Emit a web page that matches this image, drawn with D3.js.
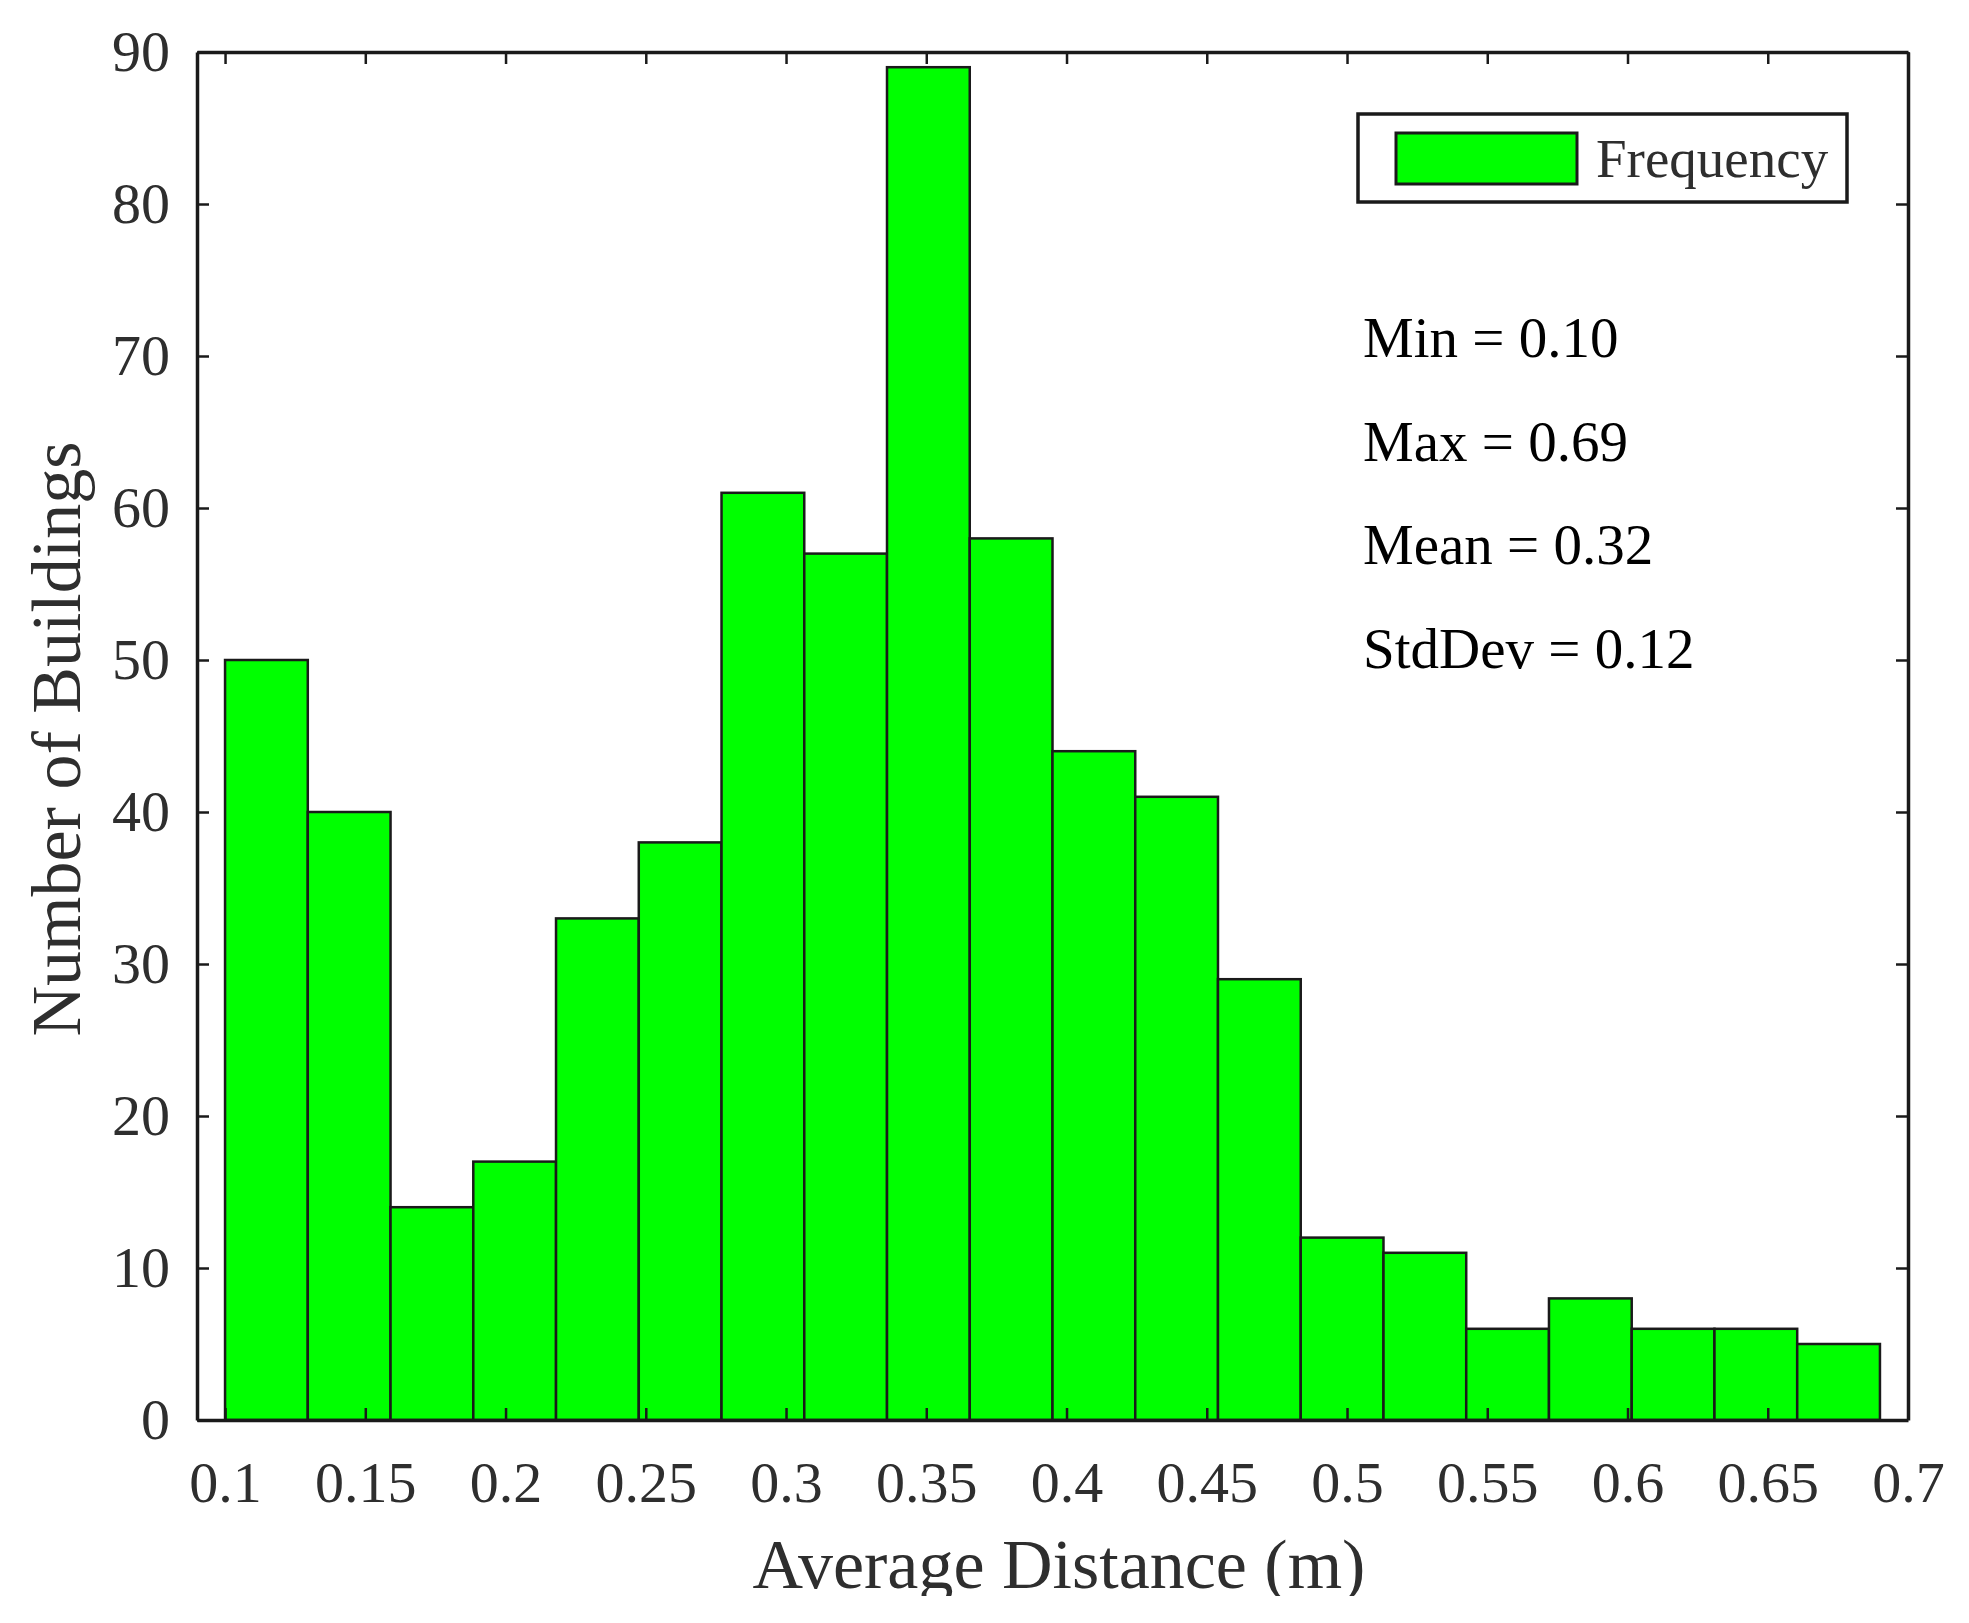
<!DOCTYPE html>
<html>
<head>
<meta charset="utf-8">
<script src="https://cdn.jsdelivr.net/npm/d3@7"></script>
<style>
  html, body { margin: 0; padding: 0; background: #fff; }
  svg text { font-family: "Liberation Serif", "Times New Roman", serif; }
</style>
</head>
<body>
<svg id="chart"></svg>
<script>
(function () {
    "use strict";

    // histogram data
    var binEdges = [0.1000, 0.1295, 0.1590, 0.1885, 0.2180, 0.2475, 0.2770, 0.3065, 0.3360, 0.3655, 0.3950,
                    0.4245, 0.4540, 0.4835, 0.5130, 0.5425, 0.5720, 0.6015, 0.6310, 0.6605, 0.6900];
    var counts = [50, 40, 14, 17, 33, 38, 61, 57, 89, 58, 44, 41, 29, 12, 11, 6, 8, 6, 6, 5];
    var xTicks = [0.1, 0.15, 0.2, 0.25, 0.3, 0.35, 0.4, 0.45, 0.5, 0.55, 0.6, 0.65, 0.7];
    var yTicks = [0, 10, 20, 30, 40, 50, 60, 70, 80, 90];
    var xDomain = [0.09, 0.7];
    var yDomain = [0, 90];
    var statsLabels = ["Min = 0.10", "Max = 0.69", "Mean = 0.32", "StdDev = 0.12"];
    var legendLabel = "Frequency";

    var dim = { width: 1969, height: 1623 };
    var plot = { left: 197, right: 1908, top: 52, bottom: 1420 };
    var textColor = "#2e2e2e";

    var x = d3.scaleLinear().domain(xDomain).range([plot.left, plot.right]);
    var y = d3.scaleLinear().domain(yDomain).range([plot.bottom, plot.top]);

    var svg = d3.select("#chart")
        .attr("width", dim.width)
        .attr("height", dim.height);

    // bars
    var bins = counts.map(function (c, i) { return { x0: binEdges[i], x1: binEdges[i + 1], n: c }; });
    svg.append("g").attr("class", "bars")
        .selectAll("rect").data(bins).enter().append("rect")
        .attr("x", function (d) { return x(d.x0); })
        .attr("y", function (d) { return y(d.n); })
        .attr("width", function (d) { return x(d.x1) - x(d.x0); })
        .attr("height", function (d) { return y(0) - y(d.n); })
        .attr("fill", "#00ff00")
        .attr("stroke", "#1a1a1a")
        .attr("stroke-width", 2.5);

    function styleAxis(g, labelSize) {
        g.select(".domain").attr("stroke", "#1a1a1a").attr("stroke-width", 3.5);
        g.selectAll(".tick line").attr("stroke", "#1a1a1a").attr("stroke-width", 2.5);
        g.selectAll(".tick text")
            .attr("fill", textColor)
            .style("font-size", labelSize + "px");
    }

    // bottom + left with labels, top + right ticks only
    var gx = svg.append("g").attr("transform", "translate(0," + plot.bottom + ")")
        .call(d3.axisBottom(x).tickValues(xTicks).tickSize(-12).tickSizeOuter(0).tickPadding(41)
            .tickFormat(function (d) { return String(d); }));
    styleAxis(gx, 58);

    var gy = svg.append("g").attr("transform", "translate(" + plot.left + ",0)")
        .call(d3.axisLeft(y).tickValues(yTicks).tickSize(-12).tickSizeOuter(0).tickPadding(27));
    styleAxis(gy, 58);

    var gt = svg.append("g").attr("transform", "translate(0," + plot.top + ")")
        .call(d3.axisTop(x).tickValues(xTicks).tickSize(-12).tickSizeOuter(0).tickFormat(""));
    styleAxis(gt, 58);

    var gr = svg.append("g").attr("transform", "translate(" + plot.right + ",0)")
        .call(d3.axisRight(y).tickValues(yTicks).tickSize(-12).tickSizeOuter(0).tickFormat(""));
    styleAxis(gr, 58);

    // axis titles
    svg.append("clipPath").attr("id", "pageClip")
        .append("rect").attr("x", 0).attr("y", 0).attr("width", dim.width).attr("height", 1596);

    svg.append("text")
        .attr("clip-path", "url(#pageClip)")
        .attr("x", 1059)
        .attr("y", 1588)
        .attr("text-anchor", "middle")
        .attr("fill", textColor)
        .style("font-size", "70px")
        .text("Average Distance (m)");

    svg.append("text")
        .attr("transform", "translate(80," + ((plot.top + plot.bottom) / 2 + 3) + ") rotate(-90)")
        .attr("text-anchor", "middle")
        .attr("fill", textColor)
        .style("font-size", "70px")
        .text("Number of Buildings");

    // legend
    var legend = svg.append("g").attr("class", "legend");
    legend.append("rect")
        .attr("x", 1358).attr("y", 114).attr("width", 489).attr("height", 88)
        .attr("fill", "#fff").attr("stroke", "#1a1a1a").attr("stroke-width", 3.5);
    legend.append("rect")
        .attr("x", 1396).attr("y", 133).attr("width", 181).attr("height", 51)
        .attr("fill", "#00ff00").attr("stroke", "#1a1a1a").attr("stroke-width", 3);
    legend.append("text")
        .attr("x", 1596).attr("y", 177)
        .attr("fill", textColor)
        .style("font-size", "55px")
        .text(legendLabel);

    // statistics annotation
    svg.append("g").attr("class", "stats")
        .selectAll("text").data(statsLabels).enter().append("text")
        .attr("x", 1363)
        .attr("y", function (d, i) { return 357 + i * 103.7; })
        .attr("fill", "#000")
        .style("font-size", "57px")
        .text(function (d) { return d; });
})();
</script>
</body>
</html>
